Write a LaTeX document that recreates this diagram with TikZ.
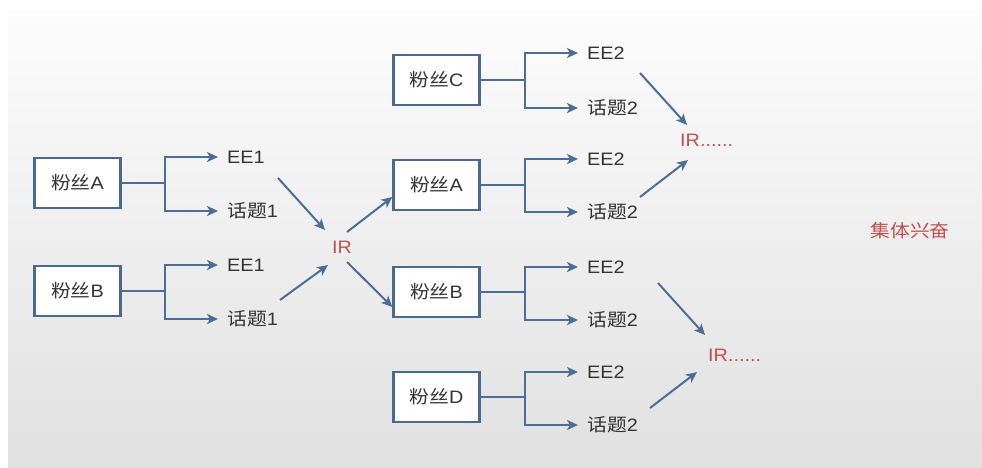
\documentclass[tikz,border=0pt]{standalone}
\usepackage{fontspec}
\setmainfont[FakeStretch=1.1]{Liberation Sans}
\newfontfamily\cjk[FakeStretch=1.1]{Noto Sans CJK SC}
\newcommand\zh[1]{{\cjk #1}}
\usetikzlibrary{arrows.meta}
\definecolor{lineblue}{HTML}{4C6D96}
\definecolor{boxblue}{HTML}{4A6990}
\definecolor{txt}{HTML}{333333}
\definecolor{irred}{HTML}{C0504D}
\tikzset{
  fanbox/.style={draw=boxblue, line width=2.2pt, fill=white, minimum width=86pt, minimum height=50pt, inner sep=0pt, text=txt, font=\fontsize{18}{20}\selectfont},
  item/.style={anchor=west, inner xsep=9pt, inner ysep=1pt, text=txt, font=\fontsize{18}{20}\selectfont},
  irlab/.style={text=irred, inner sep=0pt, font=\fontsize{18}{20}\selectfont},
  conn/.style={draw=lineblue, line width=2pt},
  arr/.style={conn, -{Stealth[length=11pt,width=10pt,inset=3pt]}},
}
\begin{document}
\begin{tikzpicture}[x=1pt,y=-1pt]
\useasboundingbox (0,0) rectangle (982,467);
\shade[top color=white!99!black, bottom color=black!12] (8,10) rectangle (982,467);

% left boxes
\node[fanbox] (lA) at (77.5,183) {\zh{粉丝}A};
\node[fanbox] (lB) at (77.5,291) {\zh{粉丝}B};
\coordinate (jlA) at (165,183);
\coordinate (jlB) at (165,291);
\node[item] (lA1) at (218,157) {EE1};
\node[item] (lA2) at (218,211) {\zh{话题}1};
\node[item] (lB1) at (218,265) {EE1};
\node[item] (lB2) at (218,319) {\zh{话题}1};
\draw[conn] (lA.east) -- (jlA);
\draw[arr] (jlA) |- (lA1.west);
\draw[arr] (jlA) |- (lA2.west);
\draw[conn] (lB.east) -- (jlB);
\draw[arr] (jlB) |- (lB1.west);
\draw[arr] (jlB) |- (lB2.west);

% IR centre
\node[irlab] (ir) at (342,247) {IR};

% middle boxes
\node[fanbox] (mC) at (436.5,80) {\zh{粉丝}C};
\node[fanbox] (mA) at (436.5,185) {\zh{粉丝}A};
\node[fanbox] (mB) at (436.5,292) {\zh{粉丝}B};
\node[fanbox] (mD) at (436.5,397) {\zh{粉丝}D};
\coordinate (jmC) at (525,80);
\coordinate (jmA) at (525,185);
\coordinate (jmB) at (525,292);
\coordinate (jmD) at (525,397);
\node[item] (mC1) at (578,53) {EE2};
\node[item] (mC2) at (578,108) {\zh{话题}2};
\node[item] (mA1) at (578,159) {EE2};
\node[item] (mA2) at (578,212) {\zh{话题}2};
\node[item] (mB1) at (578,267) {EE2};
\node[item] (mB2) at (578,320) {\zh{话题}2};
\node[item] (mD1) at (578,372) {EE2};
\node[item] (mD2) at (578,425) {\zh{话题}2};
\foreach \b in {C,A,B,D}{
  \draw[conn] (m\b.east) -- (jm\b);
  \draw[arr] (jm\b) |- (m\b1.west);
  \draw[arr] (jm\b) |- (m\b2.west);
}

% right labels
\node[irlab, anchor=west] (ir1) at (680,140) {IR......};
\node[irlab, anchor=west] (ir2) at (708,355) {IR......};
\node[irlab] (jt) at (910,231) {\zh{集体兴奋}};

% diagonal arrows
\draw[arr] ([shift={(60,21)}]lA1.west) -- ([shift={(-17,-17)}]ir.center);
\draw[arr] ([shift={(62,-19)}]lB2.west) -- ([shift={(-14,18)}]ir.center);
\draw[arr] ([shift={(5,-15)}]ir.center) -- ([shift={(0,12)}]mA.west);
\draw[arr] ([shift={(5,15)}]ir.center) -- ([shift={(0,15)}]mB.west);
\draw[arr] ([shift={(62,20)}]mC1.west) -- ([shift={(7,-15)}]ir1.west);
\draw[arr] ([shift={(62,-15)}]mA2.west) -- ([shift={(8,20)}]ir1.west);
\draw[arr] ([shift={(80,16)}]mB1.west) -- ([shift={(-3,-20)}]ir2.west);
\draw[arr] ([shift={(72,-17)}]mD2.west) -- ([shift={(-11,17)}]ir2.west);
\end{tikzpicture}
\end{document}
